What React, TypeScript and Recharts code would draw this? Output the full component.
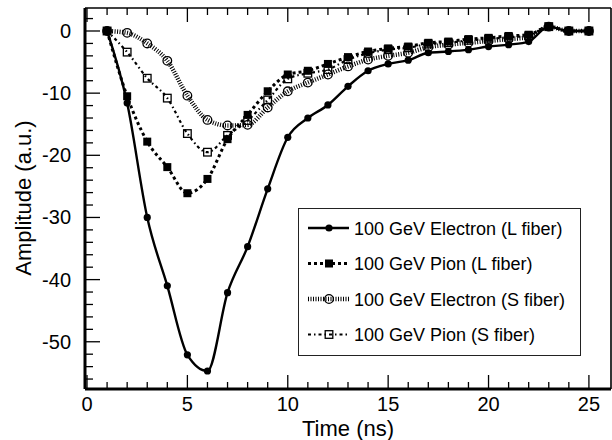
import { Legend, Line, LineChart, XAxis, YAxis } from "recharts";

// ---------------------------------------------------------------------------
// Data (Time in ns, amplitude in a.u.)
// ---------------------------------------------------------------------------

const times = [1, 2, 3, 4, 5, 6, 7, 8, 9, 10, 11, 12, 13, 14, 15, 16, 17, 18, 19, 20, 21, 22, 23, 24, 25];

const electronL = [0, -11.6, -30.0, -41.0, -52.1, -54.7, -42.1, -34.7, -25.4, -17.1, -14.0, -11.9, -8.9, -6.4, -5.3, -4.7, -3.5, -3.3, -3.0, -2.5, -2.2, -1.7, 0.7, 0, 0];
const pionL = [0, -10.5, -17.8, -21.9, -26.1, -23.8, -17.4, -13.5, -9.7, -7.0, -6.4, -5.3, -4.2, -3.3, -2.8, -2.5, -1.9, -1.7, -1.3, -1.1, -0.8, -0.6, 0.7, 0, 0];
const electronS = [0, -0.3, -2.0, -4.8, -10.4, -14.3, -15.2, -15.1, -12.3, -9.7, -8.3, -7.0, -5.7, -4.6, -4.0, -3.5, -2.6, -2.2, -1.9, -1.6, -1.3, -1.0, 0.7, 0, 0];
const pionS = [0, -3.4, -7.6, -10.8, -16.5, -19.5, -16.8, -14.4, -11.1, -7.7, -6.8, -6.2, -4.6, -3.6, -3.0, -2.7, -2.1, -1.9, -1.5, -1.3, -1.0, -0.8, 0.7, 0, 0];

const xTicks = [0, 1, 2, 3, 4, 5, 6, 7, 8, 9, 10, 11, 12, 13, 14, 15, 16, 17, 18, 19, 20, 21, 22, 23, 24, 25];
const yTicks = [2, 0, -2, -4, -6, -8, -10, -12, -14, -16, -18, -20, -22, -24, -26, -28, -30, -32, -34, -36, -38, -40, -42, -44, -46, -48, -50, -52, -54, -56];

const rows = times.map((t, i) => ({
  t,
  eL: electronL[i],
  pL: pionL[i],
  eS: electronS[i],
  pS: pionS[i],
}));

const FONT = "'Liberation Sans', Arial, Helvetica, sans-serif";

// ---------------------------------------------------------------------------
// Markers
// ---------------------------------------------------------------------------

type Mark = "dot" | "square" | "ring" | "box";

function marker(kind: Mark, cx: number, cy: number, key?: string | number) {
  if (kind === "dot") return <circle key={key} cx={cx} cy={cy} r={3.6} fill="#000" />;
  if (kind === "square") return <rect key={key} x={cx - 4} y={cy - 4} width={8} height={8} fill="#000" />;
  if (kind === "ring")
    return <circle key={key} cx={cx} cy={cy} r={4.3} fill="none" stroke="#000" strokeWidth={1.3} />;
  return <rect key={key} x={cx - 3.8} y={cy - 3.8} width={7.6} height={7.6} fill="none" stroke="#000" strokeWidth={1.3} />;
}

const dotFor = (kind: Mark) => (p: any) => {
  if (p.cx == null || p.cy == null) return <g key={p.index} />;
  return marker(kind, p.cx, p.cy, p.index);
};

// ---------------------------------------------------------------------------
// Ticks: drawn inward on every side, labels only on bottom/left majors
// ---------------------------------------------------------------------------

function BottomTick({ x, y, payload }: any) {
  const v = payload.value;
  const major = v % 5 === 0;
  return (
    <g>
      <line x1={x} x2={x} y1={y} y2={y - (major ? 14 : 7)} stroke="#000" strokeWidth={1.3} />
      {major && (
        <text x={x} y={y + 22} textAnchor="middle" fontSize={20} fontFamily={FONT} fill="#000">
          {v}
        </text>
      )}
    </g>
  );
}

function TopTick({ x, y, payload }: any) {
  const major = payload.value % 5 === 0;
  return <line x1={x} x2={x} y1={y} y2={y + (major ? 14 : 7)} stroke="#000" strokeWidth={1.3} />;
}

function LeftTick({ x, y, payload }: any) {
  const v = payload.value;
  const major = v % 10 === 0;
  return (
    <g>
      <line x1={x} x2={x + (major ? 15 : 8)} y1={y} y2={y} stroke="#000" strokeWidth={1.3} />
      {major && (
        <text x={x - 14} y={y} dy={7} textAnchor="end" fontSize={20} fontFamily={FONT} fill="#000">
          {v}
        </text>
      )}
    </g>
  );
}

function RightTick({ x, y, payload }: any) {
  const major = payload.value % 10 === 0;
  return <line x1={x} x2={x - (major ? 15 : 8)} y1={y} y2={y} stroke="#000" strokeWidth={1.3} />;
}

// ---------------------------------------------------------------------------
// Legend box
// ---------------------------------------------------------------------------

const legendItems: { name: string; dash?: string; width: number; mark: Mark }[] = [
  { name: "100 GeV Electron (L fiber)", width: 2.4, mark: "dot" },
  { name: "100 GeV Pion (L fiber)", dash: "3 3", width: 3, mark: "square" },
  { name: "100 GeV Electron (S fiber)", dash: "1 1.5", width: 4.5, mark: "ring" },
  { name: "100 GeV Pion (S fiber)", dash: "3 3 1.5 3", width: 2.2, mark: "box" },
];

function LegendBox() {
  return (
    <div
      style={{
        width: 283,
        height: 148,
        boxSizing: "border-box",
        border: "1.3px solid #222",
        background: "#fff",
      }}
    >
      <svg width={281} height={146}>
        {legendItems.map((it, i) => {
          const cy = 19 + i * 35.5;
          return (
            <g key={it.name}>
              <line x1={9} x2={50} y1={cy} y2={cy} stroke="#000" strokeWidth={it.width} strokeDasharray={it.dash} />
              {marker(it.mark, 30, cy)}
              <text x={55} y={cy + 6.5} fontSize={18} fontFamily={FONT} fill="#000">
                {it.name}
              </text>
            </g>
          );
        })}
      </svg>
    </div>
  );
}

// ---------------------------------------------------------------------------
// Chart
// ---------------------------------------------------------------------------

export default function App() {
  const xDomain: [number, number] = [-0.1, 26.1];
  const yDomain: [number, number] = [-57.6, 3.7];

  return (
    <div style={{ position: "absolute", left: 0, top: 0, background: "#fff" }}>
      <LineChart width={612} height={440} data={rows} margin={{ top: 0, right: 0, bottom: 0, left: 0 }}>
        <XAxis
          xAxisId="bottom"
          dataKey="t"
          type="number"
          domain={xDomain}
          ticks={xTicks}
          interval={0}
          height={51}
          tickSize={0}
          tickMargin={0}
          tickLine={false}
          tick={<BottomTick />}
          axisLine={{ stroke: "#000", strokeWidth: 3 }}
          label={{
            content: () => (
              <text x={348} y={436} textAnchor="middle" fontSize={22} fontFamily={FONT} fill="#000">
                Time (ns)
              </text>
            ),
          }}
        />
        <XAxis
          xAxisId="top"
          dataKey="t"
          type="number"
          orientation="top"
          domain={xDomain}
          ticks={xTicks}
          interval={0}
          height={8}
          tickSize={0}
          tickMargin={0}
          tickLine={false}
          tick={<TopTick />}
          axisLine={{ stroke: "#000", strokeWidth: 1.6 }}
        />
        <YAxis
          yAxisId="left"
          type="number"
          domain={yDomain}
          ticks={yTicks}
          interval={0}
          width={85}
          tickSize={0}
          tickMargin={0}
          tickLine={false}
          tick={<LeftTick />}
          axisLine={{ stroke: "#000", strokeWidth: 3 }}
          label={{
            content: () => (
              <text
                x={31}
                y={198}
                transform="rotate(-90 31 198)"
                textAnchor="middle"
                fontSize={22}
                fontFamily={FONT}
                fill="#000"
              >
                Amplitude (a.u.)
              </text>
            ),
          }}
        />
        <YAxis
          yAxisId="right"
          type="number"
          orientation="right"
          domain={yDomain}
          ticks={yTicks}
          interval={0}
          width={1}
          tickSize={0}
          tickMargin={0}
          tickLine={false}
          tick={<RightTick />}
          axisLine={{ stroke: "#000", strokeWidth: 1.6 }}
        />

        <Legend
          layout="horizontal"
          verticalAlign="middle"
          align="center"
          wrapperStyle={{ position: "absolute", left: 298, top: 208, width: 283, height: 148 }}
          content={() => <LegendBox />}
        />

        <Line
          xAxisId="bottom"
          yAxisId="left"
          dataKey="eS"
          type="monotone"
          stroke="#000"
          strokeWidth={4.5}
          strokeDasharray="1 1.5"
          dot={dotFor("ring")}
          activeDot={false}
          isAnimationActive={false}
        />
        <Line
          xAxisId="bottom"
          yAxisId="left"
          dataKey="pS"
          type="monotone"
          stroke="#000"
          strokeWidth={2.2}
          strokeDasharray="3 3 1.5 3"
          dot={dotFor("box")}
          activeDot={false}
          isAnimationActive={false}
        />
        <Line
          xAxisId="bottom"
          yAxisId="left"
          dataKey="eL"
          type="monotone"
          stroke="#000"
          strokeWidth={2.4}
          dot={dotFor("dot")}
          activeDot={false}
          isAnimationActive={false}
        />
        <Line
          xAxisId="bottom"
          yAxisId="left"
          dataKey="pL"
          type="monotone"
          stroke="#000"
          strokeWidth={3}
          strokeDasharray="3 3"
          dot={dotFor("square")}
          activeDot={false}
          isAnimationActive={false}
        />
      </LineChart>
    </div>
  );
}
